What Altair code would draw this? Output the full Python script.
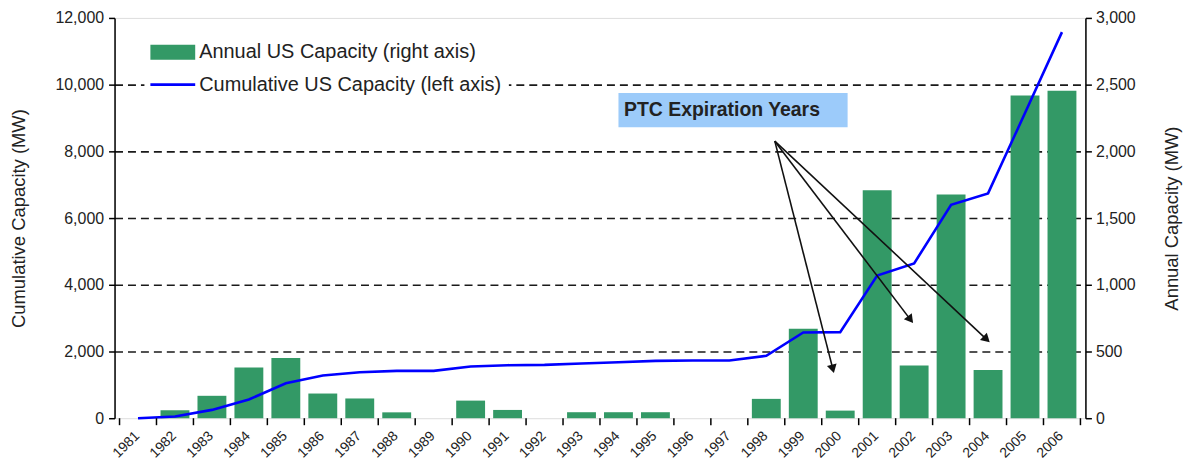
import altair as alt
import pandas as pd

# ---------------- data ----------------
years = list(range(1981, 2007))
annual_mw = [0, 60, 168, 380, 452, 185, 148, 44, 0, 132, 62, 0, 45, 45, 45,
             0, 0, 145, 670, 57, 1709, 396, 1677, 362, 2418, 2454]
cumulative_mw = [0, 50, 250, 560, 1050, 1280, 1380, 1420, 1420, 1550, 1590,
                 1600, 1640, 1680, 1720, 1730, 1730, 1870, 2570, 2580, 4275,
                 4640, 6400, 6740, 9150, 11575]

left_ticks = [0, 2000, 4000, 6000, 8000, 10000, 12000]
right_ticks = [0, 500, 1000, 1500, 2000, 2500, 3000]

legend_labels = ["Annual US Capacity (right axis)",
                 "Cumulative US Capacity (left axis)"]
left_title = "Cumulative Capacity (MW)"
right_title = "Annual Capacity (MW)"

annotation_text = "PTC Expiration Years"
box_years = [1994.0, 2000.2]
box_mw = [8720, 9750]
arrow_start_year = 1998.23
arrow_start_mw = 8305
arrow_tip_years = [1999.8, 2001.9, 2003.96]
arrow_tip_mw = [1478, 2956, 2365]
arrow_head_angles = [165.7, 142.7, 133.1]

# ---------------- styling ----------------
W, H = 975, 402
FONT = "Liberation Sans"
TXT = "#222222"
GREEN = "#339966"
BLUE = "#0000FF"

df = pd.DataFrame({"year": years, "annual": annual_mw, "cumulative": cumulative_mw})
tick_df = pd.DataFrame({"b": [y - 0.5 for y in years] + [years[-1] + 0.5]})
arrow_df = pd.DataFrame({
    "x0": [arrow_start_year] * len(arrow_tip_years),
    "y0": [arrow_start_mw] * len(arrow_tip_years),
    "x1": arrow_tip_years,
    "y1": arrow_tip_mw,
    "angle": arrow_head_angles,
})
box_df = pd.DataFrame({"xa": [box_years[0]], "xb": [box_years[1]],
                       "ya": [box_mw[0]], "yb": [box_mw[1]],
                       "label": [annotation_text]})

xscale = alt.Scale(domain=[years[0] - 0.5, years[-1] + 0.5], nice=False, zero=False)
left_scale = alt.Scale(domain=[left_ticks[0], left_ticks[-1]], nice=False)
right_scale = alt.Scale(domain=[right_ticks[0], right_ticks[-1]], nice=False)

xaxis = alt.Axis(values=years, labels=False, ticks=False, grid=False,
                 domainColor="black", domainWidth=1.5, title=None)

bars = alt.Chart(df).mark_bar(width=29, color=GREEN).encode(
    x=alt.X("year:Q", scale=xscale, axis=xaxis),
    y=alt.Y("annual:Q", scale=right_scale,
            axis=alt.Axis(orient="right", values=right_ticks, format=",d", grid=False,
                          title=right_title, titleAngle=270, titleFontSize=18.5,
                          titleFontWeight="normal", titleColor=TXT, titleFont=FONT,
                          titlePadding=46, labelFontSize=16, labelColor=TXT,
                          labelFont=FONT, domainColor="black", domainWidth=1.5,
                          tickColor="black", tickWidth=1.5, tickSize=6, labelPadding=4)),
)

line = alt.Chart(df).mark_line(color=BLUE, strokeWidth=2.6).encode(
    x=alt.X("year:Q", scale=xscale, axis=None),
    y=alt.Y("cumulative:Q", scale=left_scale,
            axis=alt.Axis(orient="left", values=left_ticks, format=",d", grid=True,
                          gridDash=[8, 5], gridColor="#1a1a1a", gridWidth=1.6,
                          gridOpacity={"condition": {"test": "datum.value == 0 || datum.value == 12000",
                                                     "value": 0}, "value": 1},
                          title=left_title, titleFontSize=18.5, titleFontWeight="normal",
                          titleColor=TXT, titleFont=FONT, titlePadding=26,
                          labelFontSize=16, labelColor=TXT, labelFont=FONT,
                          domainColor="black", domainWidth=1.5, tickColor="black",
                          tickWidth=1.5, tickSize=6, labelPadding=5)),
)

xticks = alt.Chart(tick_df).mark_rule(color="black", strokeWidth=1.5).encode(
    x=alt.X("b:Q", scale=xscale, axis=None),
    y=alt.value(H), y2=alt.value(H + 7),
)

xlabels = alt.Chart(df).mark_text(angle=315, align="right", baseline="middle",
                                  font=FONT, fontSize=14, color=TXT, dx=-1).encode(
    x=alt.X("year:Q", scale=xscale, axis=None),
    y=alt.value(H + 15),
    text=alt.Text("year:Q", format="d"),
)

ann_scale = alt.Scale(domain=[left_ticks[0], left_ticks[-1]], nice=False)

box = alt.Chart(box_df).mark_rect(color="#9CCBFA").encode(
    x=alt.X("xa:Q", scale=xscale, axis=None), x2="xb:Q",
    y=alt.Y("ya:Q", scale=ann_scale, axis=None), y2="yb:Q",
)
box_text = alt.Chart(box_df).transform_calculate(
    tx="datum.xa + 0.15", ty="(datum.ya + datum.yb) / 2"
).mark_text(align="left", baseline="middle", font=FONT, fontSize=19.5,
            fontWeight="bold", color=TXT).encode(
    x=alt.X("tx:Q", scale=xscale, axis=None),
    y=alt.Y("ty:Q", scale=ann_scale, axis=None),
    text="label:N",
)

arrows = alt.Chart(arrow_df).mark_rule(color="#111111", strokeWidth=1.6).encode(
    x=alt.X("x0:Q", scale=xscale, axis=None), x2="x1:Q",
    y=alt.Y("y0:Q", scale=ann_scale, axis=None), y2="y1:Q",
)
heads = alt.Chart(arrow_df).mark_point(shape="triangle-up", filled=True, color="#111111",
                                       size=100, opacity=1).encode(
    x=alt.X("x1:Q", scale=xscale, axis=None),
    y=alt.Y("y1:Q", scale=ann_scale, axis=None),
    angle=alt.Angle("angle:Q", scale=None),
)

# ---------------- legend (drawn manually, top-left inside plot) ----------------
leg_df = pd.DataFrame({"label": legend_labels, "row": [0, 1]})
leg_bg = alt.Chart(leg_df).transform_filter("datum.row == 0").mark_rect(color="white").encode(
    x=alt.value(30), x2=alt.value(396), y=alt.value(20), y2=alt.value(82))
leg_rect = alt.Chart(leg_df).transform_filter("datum.row == 0").mark_rect(color=GREEN).encode(
    x=alt.value(36), x2=alt.value(81), y=alt.value(27), y2=alt.value(42))
leg_line = alt.Chart(leg_df).transform_filter("datum.row == 1").mark_rule(
    color=BLUE, strokeWidth=2.6).encode(
    x=alt.value(36), x2=alt.value(81), y=alt.value(67))
leg_text = alt.Chart(leg_df).mark_text(align="left", baseline="middle", font=FONT,
                                        fontSize=20, color=TXT).encode(
    x=alt.value(85),
    y=alt.Y("row:Q", scale=alt.Scale(domain=[0, 1], range=[34, 67]), axis=None),
    text="label:N",
)

chart = alt.layer(
    bars, line, xticks, xlabels, box, box_text, arrows, heads,
    leg_bg, leg_rect, leg_line, leg_text,
).resolve_scale(y="independent").properties(
    width=W, height=H,
    autosize=alt.AutoSizeParams(type="none"),
    padding={"left": 107, "top": 9, "right": 100, "bottom": 41},
).configure_view(stroke="black", strokeWidth=1.5).configure(background="white")

chart.save("out.html", embed_options={"renderer": "svg", "actions": False})
